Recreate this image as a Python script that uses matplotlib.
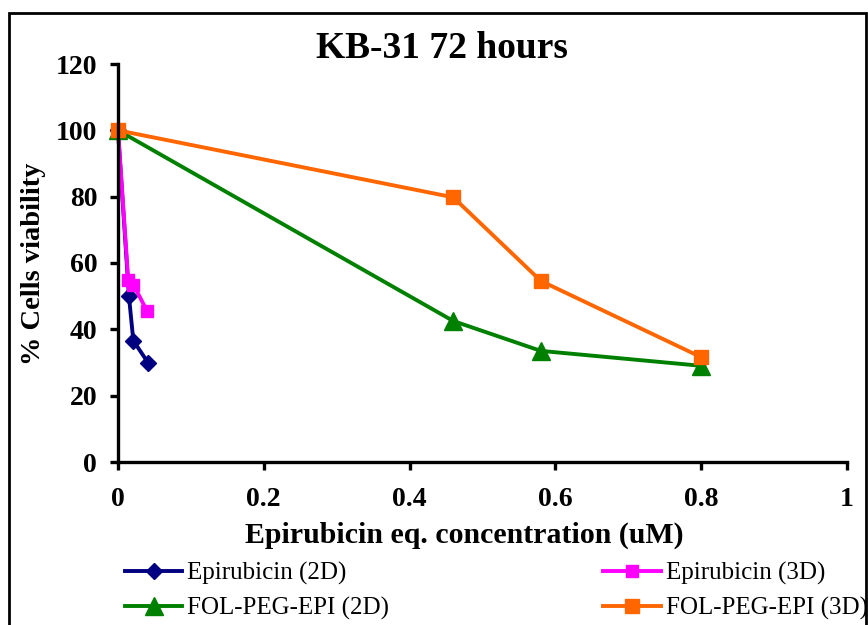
import matplotlib
matplotlib.use("Agg")
import matplotlib.pyplot as plt
from matplotlib.patches import Rectangle

plt.rcParams['font.family'] = ['Liberation Serif', 'DejaVu Serif']

# Data
epi2d_x = [0, 0.015, 0.021, 0.041]
epi2d_y = [100, 50, 36.6, 30]
epi3d_x = [0, 0.014, 0.021, 0.040]
epi3d_y = [100, 55, 53.5, 45.5]
fol2d_x = [0, 0.46, 0.58, 0.80]
fol2d_y = [100, 42.5, 33.5, 29]
fol3d_x = [0, 0.46, 0.58, 0.80]
fol3d_y = [100, 79.8, 54.6, 31.6]

labels = ["Epirubicin (2D)", "Epirubicin (3D)", "FOL-PEG-EPI (2D)", "FOL-PEG-EPI (3D)"]
x_ticks = [0, 0.2, 0.4, 0.6, 0.8, 1]
x_ticklabels = ["0", "0.2", "0.4", "0.6", "0.8", "1"]
y_ticks = [0, 20, 40, 60, 80, 100, 120]

W, H = 868, 625
fig = plt.figure(figsize=(W/100, H/100), dpi=100)
ax = fig.add_axes([118/W, 1-462/H, (847-118)/W, (462-64)/H])

lw = 2.8
l1, = ax.plot(epi2d_x, epi2d_y, color='#000080', lw=lw, marker='D', ms=8, clip_on=False)
l2, = ax.plot(epi3d_x, epi3d_y, color='#FF00FF', lw=lw, marker='s', ms=8.5, clip_on=False)
l3, = ax.plot(fol2d_x, fol2d_y, color='#008000', lw=lw, marker='^', ms=12.5, clip_on=False)
l4, = ax.plot(fol3d_x, fol3d_y, color='#FF6600', lw=lw, marker='s', ms=10.5, clip_on=False)

ax.set_xlim(0, 1)
ax.set_ylim(0, 120)
ax.set_xticks(x_ticks)
ax.set_xticklabels(x_ticklabels)
ax.set_yticks(y_ticks)
for s in ['top', 'right']:
    ax.spines[s].set_visible(False)
for s in ['left', 'bottom']:
    ax.spines[s].set_linewidth(2.4)
ax.tick_params(axis='both', direction='out', length=6, width=2.4, labelsize=20)
ax.tick_params(axis='x', pad=12)
ax.tick_params(axis='y', pad=9)
for t in ax.get_xticklabels() + ax.get_yticklabels():
    t.set_fontweight('bold')

ax.set_xlabel("Epirubicin eq. concentration (uM)", fontsize=21.5, fontweight='bold')
ax.xaxis.set_label_coords((464-118)/729, -(535-462)/398, transform=ax.transAxes)
ax.xaxis.label.set_va('center')
ax.set_ylabel("% Cells viability", fontsize=20.5, fontweight='bold')
ax.yaxis.set_label_coords(-(118-34)/729, (462-264)/398, transform=ax.transAxes)
ax.yaxis.label.set_va('center')
fig.text(442/W, 1-48/H, "KB-31 72 hours", fontsize=27, fontweight='bold', ha='center', va='center')

common = dict(loc='center left', frameon=False, fontsize=18, handlelength=2.3,
              handletextpad=0.2, labelspacing=0.45, borderaxespad=0, borderpad=0)
leg1 = fig.legend([l1, l3], [labels[0], labels[2]], bbox_to_anchor=(125/W, 1-591/H), **common)
leg2 = fig.legend([l2, l4], [labels[1], labels[3]], bbox_to_anchor=(603/W, 1-591/H), **common)

fig.patches.append(Rectangle((9/W, -0.05), (866-9)/W, 1-13/H+0.05, transform=fig.transFigure,
                             fill=False, edgecolor='black', lw=2.0))

fig.savefig("out.png", dpi=100)
